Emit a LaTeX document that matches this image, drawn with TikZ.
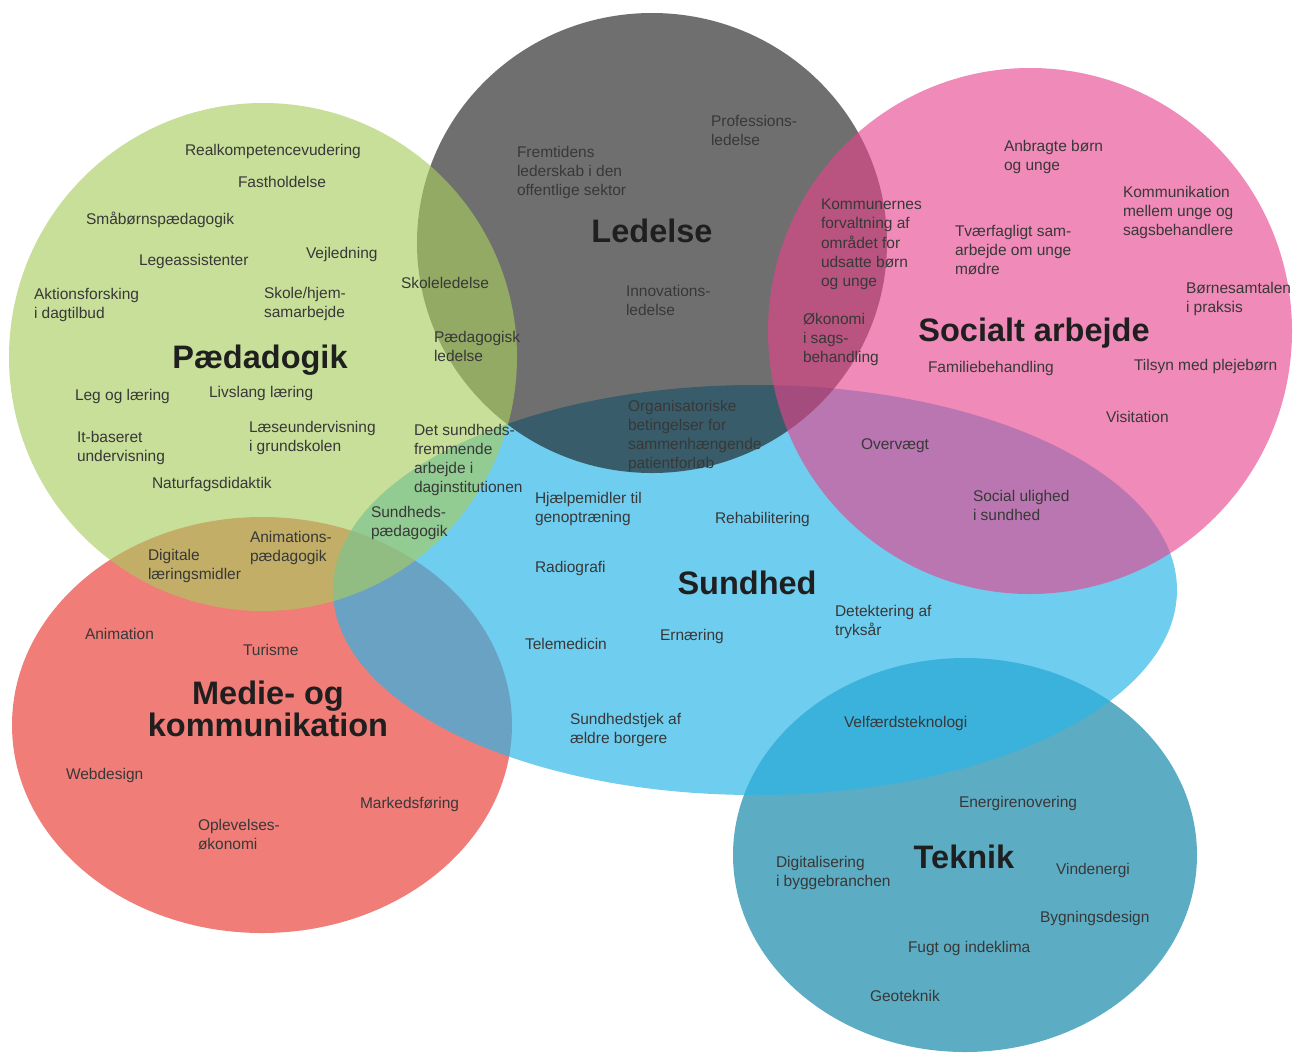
\documentclass[tikz,border=0pt]{standalone}
\usepackage{fontspec}
\setmainfont{Liberation Sans}
\definecolor{labc}{HTML}{383838}
\definecolor{titc}{HTML}{1F1F1F}
\definecolor{greensrc}{RGB}{168,204,93}
\definecolor{greysrc}{RGB}{23,23,23}
\definecolor{pinksrc}{RGB}{231,66,140}
\definecolor{bluesrc}{RGB}{43,181,231}
\definecolor{redfill}{RGB}{240,125,120}
\definecolor{tealfill}{RGB}{92,172,196}
\newcommand\lblfont{\fontsize{15.5}{19.2}\selectfont}
\newcommand\ttlfont{\fontsize{32.5}{32}\selectfont\bfseries}
\begin{document}
\begin{tikzpicture}[x=1pt,y=-1pt,
  lbl/.style={font=\lblfont, text=labc, anchor=north west, align=left, inner sep=0pt, outer sep=0pt},
  ttl/.style={font=\ttlfont, text=titc, anchor=base, inner sep=0pt, align=center},
  blob/.style={draw=none}]
\useasboundingbox (0,0) rectangle (1293,1053);
% circles (bottom to top)
\fill[blob, redfill] (262,725) ellipse [x radius=250pt, y radius=208pt];
\fill[blob, tealfill] (965,855) ellipse [x radius=232pt, y radius=197pt];
\fill[blob, bluesrc, fill opacity=0.68] (755,590) ellipse [x radius=422pt, y radius=205pt];
\fill[blob, greysrc, fill opacity=0.62] (652,243) ellipse [x radius=235pt, y radius=230pt];
\fill[blob, pinksrc, fill opacity=0.62] (1030,331) ellipse [x radius=262pt, y radius=263pt];
\fill[blob, greensrc, fill opacity=0.63] (263,357) ellipse [x radius=254pt, y radius=254pt];
% titles
\node[ttl] (tpaed) at (260,368) {Pædadogik};
\node[ttl] (tled) at (652,242) {Ledelse};
\node[ttl] (tsoc) at (1034,341) {Socialt arbejde};
\node[ttl] (tsund) at (747,594) {Sundhed};
\node[ttl] (ttek) at (964,868) {Teknik};
\node[ttl, anchor=north] (tmed) at (268,681) {Medie- og\\kommunikation};
% Paedagogik
\node[lbl] (realk) at (185,144) {Realkompetencevudering};
\node[lbl] (fasth) at (238,176) {Fastholdelse};
\node[lbl] (smaab) at (86,212) {Småbørnspædagogik};
\node[lbl] (legea) at (139,254) {Legeassistenter};
\node[lbl] (vejl) at (306,247) {Vejledning};
\node[lbl] (aktion) at (34,288) {Aktionsforsking\\i dagtilbud};
\node[lbl] (skolehj) at (264,287) {Skole/hjem-\\samarbejde};
\node[lbl] (skolel) at (401,277) {Skoleledelse};
\node[lbl] (paedl) at (434,331) {Pædagogisk\\ledelse};
\node[lbl] (leg) at (75,389) {Leg og læring};
\node[lbl] (livs) at (209,386) {Livslang læring};
\node[lbl] (itb) at (77,431) {It-baseret\\undervisning};
\node[lbl] (laese) at (249,421) {Læseundervisning\\i grundskolen};
\node[lbl] (detsund) at (414,424) {Det sundheds-\\fremmende\\arbejde i\\daginstitutionen};
\node[lbl] (natur) at (152,477) {Naturfagsdidaktik};
\node[lbl] (sundp) at (371,506) {Sundheds-\\pædagogik};
\node[lbl] (digl) at (148,549) {Digitale\\læringsmidler};
\node[lbl] (anip) at (250,531) {Animations-\\pædagogik};
% Ledelse
\node[lbl] (fremt) at (517,146) {Fremtidens\\lederskab i den\\offentlige sektor};
\node[lbl] (profl) at (711,115) {Professions-\\ledelse};
\node[lbl] (innol) at (626,285) {Innovations-\\ledelse};
\node[lbl] (organ) at (628,400) {Organisatoriske\\betingelser for\\sammenhængende\\patientforløb};
% Socialt arbejde
\node[lbl] (anbr) at (1004,140) {Anbragte børn\\og unge};
\node[lbl] (komm) at (1123,186) {Kommunikation\\mellem unge og\\sagsbehandlere};
\node[lbl] (kommun) at (821,199) {Kommunernes\\forvaltning af\\området for\\udsatte børn\\og unge};
\node[lbl] (tvaer) at (955,225) {Tværfagligt sam-\\arbejde om unge\\mødre};
\node[lbl] (boern) at (1186,282) {Børnesamtalen\\i praksis};
\node[lbl] (oekon) at (803,313) {Økonomi\\i sags-\\behandling};
\node[lbl] (famil) at (928,361) {Familiebehandling};
\node[lbl] (tilsyn) at (1134,359) {Tilsyn med plejebørn};
\node[lbl] (visit) at (1106,411) {Visitation};
\node[lbl] (overv) at (861,439) {Overvægt};
\node[lbl] (socul) at (973,490) {Social ulighed\\i sundhed};
% Sundhed
\node[lbl] (hjaelp) at (535,492) {Hjælpemidler til\\genoptræning};
\node[lbl] (rehab) at (715,512) {Rehabilitering};
\node[lbl] (radio) at (535,561) {Radiografi};
\node[lbl] (detekt) at (835,605) {Detektering af\\tryksår};
\node[lbl] (telem) at (525,638) {Telemedicin};
\node[lbl] (ernae) at (660,629) {Ernæring};
\node[lbl] (sundtj) at (570,713) {Sundhedstjek af\\ældre borgere};
\node[lbl] (velf) at (844,716) {Velfærdsteknologi};
% Medie
\node[lbl] (anim) at (85,628) {Animation};
\node[lbl] (turis) at (243,644) {Turisme};
\node[lbl] (webd) at (66,768) {Webdesign};
\node[lbl] (marked) at (360,797) {Markedsføring};
\node[lbl] (oplev) at (198,819) {Oplevelses-\\økonomi};
% Teknik
\node[lbl] (energi) at (959,796) {Energirenovering};
\node[lbl] (digit) at (776,856) {Digitalisering\\i byggebranchen};
\node[lbl] (vind) at (1056,863) {Vindenergi};
\node[lbl] (bygn) at (1040,911) {Bygningsdesign};
\node[lbl] (fugt) at (908,941) {Fugt og indeklima};
\node[lbl] (geot) at (870,990) {Geoteknik};
\end{tikzpicture}
\end{document}
